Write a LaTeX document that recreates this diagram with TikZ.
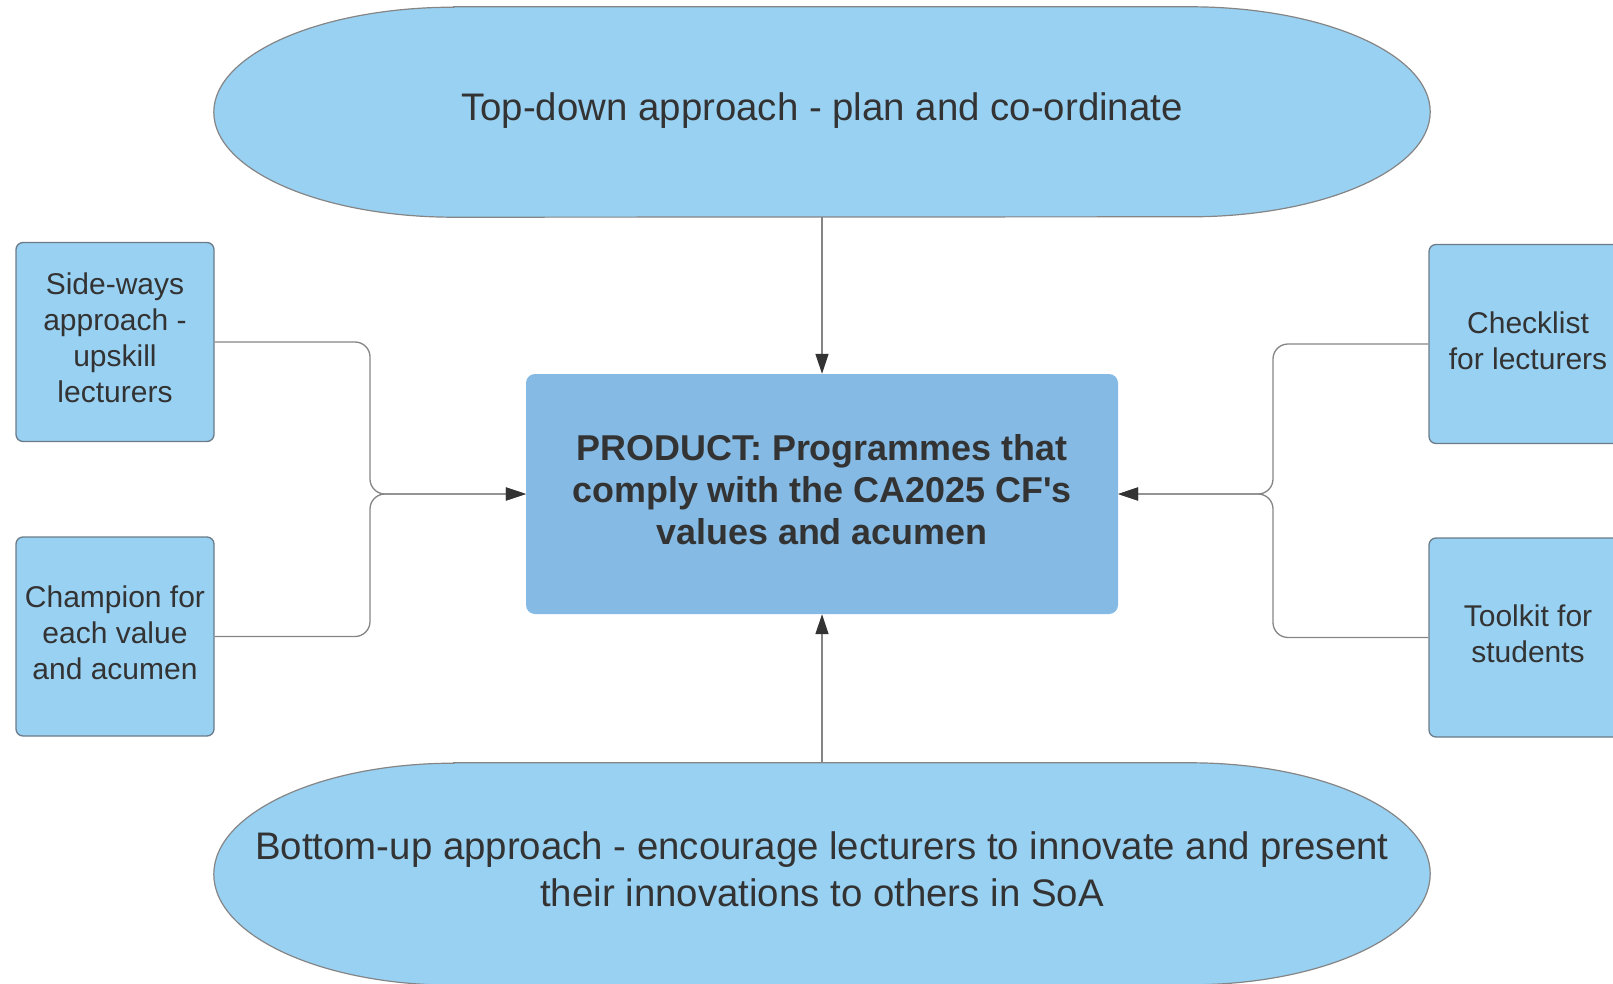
\documentclass[tikz,border=0pt]{standalone}
\usepackage{fontspec}
\setmainfont{Liberation Sans}
\usetikzlibrary{arrows.meta,backgrounds}

\definecolor{boxblue}{HTML}{99D1F3}
\definecolor{productblue}{HTML}{84BAE4}
\definecolor{boxline}{HTML}{6B7B89}
\definecolor{linkgrey}{HTML}{858585}
\definecolor{textgrey}{HTML}{333333}

% extra room under the last line, lifts the text a little
\newcommand\padbelow[1]{\rule[-#1]{0pt}{#1}}

% outline with elliptic ends, drawn behind a named node
\newcommand\terminalshape[3]{%
  \begin{scope}[on background layer]
    \draw[fill=boxblue,draw=linkgrey,line width=1.2pt]
      ([xshift=#2]#1.north west) -- ([xshift=-#2]#1.north east)
      arc[start angle=90,end angle=-90,x radius=#2,y radius=#3]
      -- ([xshift=#2]#1.south west)
      arc[start angle=270,end angle=90,x radius=#2,y radius=#3] -- cycle;
  \end{scope}}

\begin{document}
\begin{tikzpicture}[x=1pt,y=-1pt]
  \useasboundingbox (0,0) rectangle (1613,984);
  \coordinate (joinleft)  at (370,494);
  \coordinate (joinright) at (1273,494);
  \begin{scope}[
    every node/.style={
      align=center,
      text=textgrey,
      minimum width=1216pt,
      font=\fontsize{38.4}{47}\selectfont,
    },
    ]
    \node[minimum height=210pt] (topdown)  at (822,112)
      {Top-down approach - plan and co-ordinate\padbelow{10pt}};
    \node[minimum height=222pt] (bottomup) at (822,874)
      {Bottom-up approach - encourage lecturers to innovate and present\\their innovations to others in SoA\padbelow{10pt}};
  \end{scope}
  \terminalshape{topdown}{240pt}{105pt}
  \terminalshape{bottomup}{240pt}{111pt}
  \begin{scope}[
    every node/.style={
      draw=boxline,
      fill=boxblue,
      line width=1.3pt,
      rounded corners=7pt,
      align=center,
      text=textgrey,
      minimum width=198pt,
      minimum height=199pt,
      font=\fontsize{30}{36}\selectfont,
    },
    ]
    \node (sideways)  at (115,342)   {Side-ways\\approach -\\upskill\\lecturers\padbelow{8pt}};
    \node (champion)  at (115,636.5) {Champion for\\each value\\and acumen\padbelow{7pt}};
    \node (checklist) at (1528,344)  {Checklist\\for lecturers\padbelow{7pt}};
    \node (toolkit)   at (1528,637.5){Toolkit for\\students\padbelow{8pt}};
  \end{scope}
  \node[
    fill=productblue,
    rounded corners=9pt,
    align=center,
    text=textgrey,
    minimum width=592pt,
    minimum height=240pt,
    font=\fontsize{35.9}{42}\selectfont\bfseries,
    ] (product) at (822,494)
    {PRODUCT: Programmes that\\comply with the CA2025 CF\textquotesingle s\\values and acumen\padbelow{10pt}};
  \begin{scope}[
    every path/.style={
      draw=linkgrey,
      line width=1.3pt,
      rounded corners=15pt,
      -{Triangle[length=20pt,width=13pt,color=textgrey]},
    },
    ]
    \path (topdown) -- (product);
    \path (bottomup) -- (product);
    \path (sideways.east) -| (joinleft) -- (product.west);
    \path (champion.east) -| (joinleft) -- (product.west);
    \path (checklist.west) -| (joinright) -- (product.east);
    \path (toolkit.west) -| (joinright) -- (product.east);
  \end{scope}
\end{tikzpicture}
\end{document}
